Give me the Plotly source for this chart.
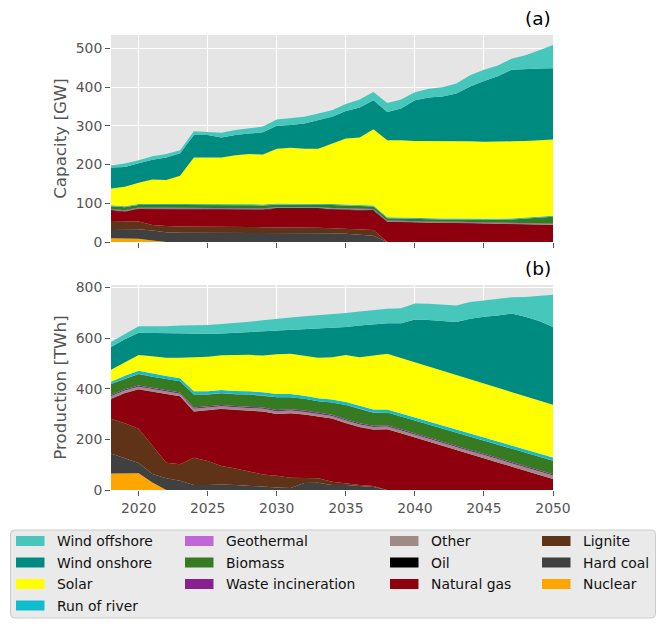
import plotly.graph_objects as go

years = list(range(2018, 2051))

tech_names = ["Nuclear", "Hard coal", "Lignite", "Natural gas", "Oil", "Other",
              "Waste incineration", "Biomass", "Geothermal", "Run of river",
              "Solar", "Wind onshore", "Wind offshore"]
tech_colors = ["#FFA500", "#404040", "#5E3317", "#8F000E", "#000000", "#9E8B86",
               "#8A1F91", "#367B22", "#C066D6", "#12BCD0",
               "#FFFF00", "#008B80", "#47C7BC"]

# ---- Capacity [GW] ----
cap_nuclear = [9.5, 9.5, 8.1, 4, 0, 0, 0, 0, 0, 0, 0, 0, 0, 0, 0, 0, 0, 0, 0, 0,
               0, 0, 0, 0, 0, 0, 0, 0, 0, 0, 0, 0, 0]
cap_hard_coal = [24, 23.5, 25, 26, 25, 24, 24, 24, 24, 24, 24, 23, 23, 23, 23, 23, 22.5, 21, 19, 16,
                 0, 0, 0, 0, 0, 0, 0, 0, 0, 0, 0, 0, 0]
cap_lignite = [21, 21, 20, 14, 16, 16, 16, 16, 16, 15, 15, 15, 15, 14, 14, 14, 13, 13, 14, 15,
               0, 0, 0, 0, 0, 0, 0, 0, 0, 0, 0, 0, 0]
cap_gas = [26.5, 24, 32, 41, 43, 44, 44, 44, 44, 45, 45, 45, 48, 49, 49, 49, 48.5, 49, 49, 50,
           52, 51, 50, 49.5, 49, 49, 48.5, 48, 47.5, 47, 46, 45, 44]
cap_oil = [1.5, 1.5, 1.5, 1.5, 1.5, 1.5, 1.5, 1.5, 1.5, 1.5, 1.5, 1.5, 1.5, 1.5, 1.5, 1.5, 1.5, 1.5, 1.5, 1.5,
           0.8, 0.8, 0.8, 0.8, 0.8, 0.8, 0.8, 0.8, 0.8, 0.8, 0.8, 0.8, 0.8]
cap_other = [1.5, 1.5, 1.5, 1.5, 1.5, 1.5, 1.5, 1.5, 1.5, 1.5, 1.5, 1.5, 1.5, 1.5, 1.5, 1.5, 1.5, 1.5, 1.5, 1.5,
             1.5, 1.5, 1.5, 1.5, 1.5, 1.5, 1.5, 1.5, 1.5, 1.5, 1.5, 1.5, 1.5]
cap_waste = [1, 1, 1, 1, 1, 1, 1, 1, 1, 1, 1, 1, 1, 1, 1, 1, 1, 1, 1, 1,
             1, 1, 1, 1, 1, 1, 1, 1, 1, 1, 1, 1, 1]
cap_biomass = [7.5, 8, 6.5, 7.5, 7.5, 7.5, 7.5, 7.5, 7.5, 7.5, 7.5, 7.5, 6.5, 6.5, 6.5, 6.5, 7.5, 7.5, 7.5, 6.5,
               6, 6, 6, 6, 6, 6, 6, 6, 6.5, 8, 11, 14, 18]
cap_geothermal = [0.1, 0.1, 0.1, 0.1, 0.1, 0.1, 0.1, 0.1, 0.1, 0.1, 0.1, 0.1, 0.1, 0.1, 0.1, 0.1, 0.1, 0.1, 0.1, 0.1,
                  0.1, 0.1, 0.1, 0.1, 0.1, 0.1, 0.1, 0.1, 0.1, 0.1, 0.1, 0.1, 0.1]
cap_ror = [2.5, 2.5, 2.5, 2.5, 2.5, 2.5, 2.5, 2.5, 2.5, 2.5, 2.5, 2.5, 2.5, 2.5, 2.5, 2.5, 2.5, 2.5, 2.5, 2.5,
           2.5, 2.5, 2.5, 2.5, 2.5, 2.5, 2.5, 2.5, 2.5, 2.5, 2.5, 2.5, 2.5]
cap_solar = [43, 50, 55, 62, 62, 73, 120, 120, 120, 126, 129, 129, 142, 144, 142, 142, 155, 170, 174, 197,
             199, 200, 199, 199.5, 200, 200.5, 200, 199, 199, 199, 198, 198, 197]
cap_onshore = [54, 51, 50, 51, 58, 58, 58, 58, 52, 52, 53, 57, 59, 59, 65, 73, 70, 71, 77, 75,
               73, 82, 105, 112, 115, 122, 141, 157, 169, 185, 186, 185, 184]
cap_offshore = [6, 9, 8, 9, 9, 8, 10, 8, 12, 13, 13, 15, 16, 17, 17, 18, 17, 18, 21, 21,
                23, 23, 21, 23, 24, 26, 29, 29, 28, 28, 35, 47, 60]

# ---- Production [TWh] ----
prod_nuclear = [65, 66, 66, 30, 0, 0, 0, 0, 0, 0, 0, 0, 0, 0, 0, 0, 0, 0, 0, 0,
                0, 0, 0, 0, 0, 0, 0, 0, 0, 0, 0, 0, 0]
prod_hard_coal = [79, 58, 41, 33, 46, 37, 20, 20, 22, 20, 16, 14, 10, 8, 28, 29, 20, 20, 16, 12,
                  0, 0, 0, 0, 0, 0, 0, 0, 0, 0, 0, 0, 0]
prod_lignite = [137, 140, 135, 113, 62, 65, 107, 95, 73, 65, 56, 47, 46, 40, 19, 17, 13, 6, 4, 4,
                0, 0, 0, 0, 0, 0, 0, 0, 0, 0, 0, 0, 0]
prod_gas = [76, 118, 155, 212, 270, 268, 183, 199, 225, 231, 242, 249, 244, 255, 251, 244, 249, 238, 228, 222,
            240, 224, 207, 191, 174, 158, 141, 125, 109, 92, 76, 59, 43]
prod_oil = [3, 1, 0.5, 0.5, 0.5, 0.5, 0.5, 0.5, 0.5, 0.5, 0.5, 0.5, 0.5, 0.5, 0.5, 0.5, 0.5, 0.5, 0.5, 0.5,
            0, 0, 0, 0, 0, 0, 0, 0, 0, 0, 0, 0, 0]
prod_other = [10, 10, 10, 10, 10, 10, 10, 10, 10, 10, 10, 10, 10, 10, 10, 10, 10, 10, 10, 10,
              11, 11, 11, 12, 12, 12, 12, 13, 13, 13, 13, 14, 14]
prod_waste = [5, 5, 5, 5, 5, 5, 5, 5, 5, 5, 5, 5, 5, 5, 5, 5, 5, 5, 5, 5,
              5, 5, 5, 5, 5, 5, 5, 5, 5, 5, 5, 5, 5]
prod_biomass = [44, 41, 46, 44, 45, 44, 52, 48, 47, 47, 48, 48, 51, 48, 47, 45, 48, 56, 58, 52,
                50, 50, 51, 51, 52, 52, 53, 52, 53, 54, 54, 54, 54]
prod_geothermal = [0.2, 0.2, 0.2, 0.2, 0.2, 0.2, 0.2, 0.2, 0.2, 0.2, 0.2, 0.2, 0.2, 0.2, 0.2, 0.2, 0.2, 0.2, 0.2, 0.2,
                   0.2, 0.2, 0.2, 0.2, 0.2, 0.2, 0.2, 0.2, 0.2, 0.2, 0.2, 0.2, 0.2]
prod_ror = [8, 12, 12, 12, 12, 12, 12, 12, 12, 12, 12, 12, 12, 12, 12, 12, 12, 12, 12, 12,
            12, 12, 12, 12, 12, 12, 12, 12, 12, 12, 12, 12, 12]
prod_solar = [48, 52, 62, 69, 72, 81, 134, 137, 137, 142, 144, 145, 157, 159, 156, 160, 167, 185, 191, 215,
              220, 219, 218, 216, 216, 215, 214, 213, 211, 210, 210, 209, 208]
prod_onshore = [90, 92, 88, 91, 95, 95, 94, 90, 86, 88, 90, 96, 95, 96, 108, 116, 116, 111, 125, 121,
                120, 137, 169, 184, 196, 209, 239, 264, 286, 311, 314, 314, 308]
prod_offshore = [19, 19, 26, 27, 29, 32, 33, 35, 38, 39, 41, 44, 46, 48, 49, 51, 54, 55, 55, 58,
                 58, 60, 63, 64, 65, 65, 66, 64, 63, 64, 78, 100, 127]

capacity = [cap_nuclear, cap_hard_coal, cap_lignite, cap_gas, cap_oil, cap_other, cap_waste,
            cap_biomass, cap_geothermal, cap_ror, cap_solar, cap_onshore, cap_offshore]
production = [prod_nuclear, prod_hard_coal, prod_lignite, prod_gas, prod_oil, prod_other, prod_waste,
              prod_biomass, prod_geothermal, prod_ror, prod_solar, prod_onshore, prod_offshore]

x_ticks = [2020, 2025, 2030, 2035, 2040, 2045, 2050]
cap_ticks = [0, 100, 200, 300, 400, 500]
prod_ticks = [0, 200, 400, 600, 800]

# legend layout (columns, top to bottom)
legend_columns = [["Wind offshore", "Wind onshore", "Solar", "Run of river"],
                  ["Geothermal", "Biomass", "Waste incineration"],
                  ["Other", "Oil", "Natural gas"],
                  ["Lignite", "Hard coal", "Nuclear"]]

# the page body adds an 8px margin; lay the figure out in window pixels minus that offset
OFF = 8
W, H = 665 - OFF, 629 - OFF
L, T = 111 - OFF, 35 - OFF
R = W - (553 - OFF)
B = H - (490 - OFF)
PW, PH = W - L - R, H - T - B


def px_x(px):
    return (px - OFF - L) / PW


def px_y(py):
    return (H - B - (py - OFF)) / PH


fig = go.Figure()
for name, col, vals in zip(tech_names, tech_colors, capacity):
    fig.add_trace(go.Scatter(x=years, y=vals, name=name, stackgroup="cap", mode="lines",
                             line=dict(width=0, color=col), fillcolor=col,
                             xaxis="x", yaxis="y", showlegend=False))
for name, col, vals in zip(tech_names, tech_colors, production):
    fig.add_trace(go.Scatter(x=years, y=vals, name=name, stackgroup="prod", mode="lines",
                             line=dict(width=0, color=col), fillcolor=col,
                             xaxis="x2", yaxis="y2", showlegend=False))

axis_common = dict(showgrid=True, gridcolor="white", gridwidth=1, zeroline=False, showline=False,
                   ticks="outside", ticklen=5, tickwidth=1, tickcolor="#555555",
                   tickfont=dict(size=13.9, color="#555555"))

fig.update_layout(
    width=W, height=H, margin=dict(l=L, r=R, t=T, b=B),
    paper_bgcolor="white", plot_bgcolor="#E5E5E5",
    font=dict(family="DejaVu Sans", color="#555555", size=13.9),
    showlegend=False,
    xaxis=dict(domain=[0, 1], anchor="y", range=[2018, 2050], tickvals=x_ticks,
               showticklabels=False, **axis_common),
    yaxis=dict(domain=[px_y(242), 1], anchor="x", range=[0, 534.5], tickvals=cap_ticks,
               title=dict(text="Capacity [GW]", font=dict(size=16.7, color="#555555"), standoff=4),
               **axis_common),
    xaxis2=dict(domain=[0, 1], anchor="y2", range=[2018, 2050], tickvals=x_ticks,
                showticklabels=True, **axis_common),
    yaxis2=dict(domain=[0, px_y(285)], anchor="x2", range=[0, 809.6], tickvals=prod_ticks,
                title=dict(text="Production [TWh]", font=dict(size=16.7, color="#555555"), standoff=4),
                **axis_common),
)

# panel labels
fig.add_annotation(text="(a)", xref="paper", yref="paper", x=1, y=px_y(19), xanchor="right",
                   yanchor="middle", showarrow=False, font=dict(size=18.5, color="black"))
fig.add_annotation(text="(b)", xref="paper", yref="paper", x=1, y=px_y(268), xanchor="right",
                   yanchor="middle", showarrow=False, font=dict(size=18.5, color="black"))

# legend box with rounded corners
bx0, bx1 = px_x(10.5), px_x(655.5)
byt, byb = px_y(530), px_y(618)
rx, ry = 4 / PW, 4 / PH
box_path = (f"M{bx0 + rx},{byt} L{bx1 - rx},{byt} Q{bx1},{byt} {bx1},{byt - ry} "
            f"L{bx1},{byb + ry} Q{bx1},{byb} {bx1 - rx},{byb} "
            f"L{bx0 + rx},{byb} Q{bx0},{byb} {bx0},{byb + ry} "
            f"L{bx0},{byt - ry} Q{bx0},{byt} {bx0 + rx},{byt} Z")
fig.add_shape(type="path", xref="paper", yref="paper", path=box_path,
              fillcolor="#EAEAEA", line=dict(color="#CCCCCC", width=1), layer="above")
col_patch_x = [16, 185, 390, 542]
row_y = [541, 562.5, 584, 605.5]
color_of = dict(zip(tech_names, tech_colors))
for ci, column in enumerate(legend_columns):
    for ri, name in enumerate(column):
        x0 = col_patch_x[ci]
        yc = row_y[ri]
        fig.add_shape(type="rect", xref="paper", yref="paper", x0=px_x(x0), x1=px_x(x0 + 28.5),
                      y0=px_y(yc + 5), y1=px_y(yc - 5), fillcolor=color_of[name],
                      line=dict(width=0), layer="above")
        fig.add_annotation(text=name, xref="paper", yref="paper", x=px_x(x0 + 39), y=px_y(yc),
                           xanchor="left", yanchor="middle", showarrow=False,
                           font=dict(size=13.9, color="#111111"))

fig.write_html("out.html")
